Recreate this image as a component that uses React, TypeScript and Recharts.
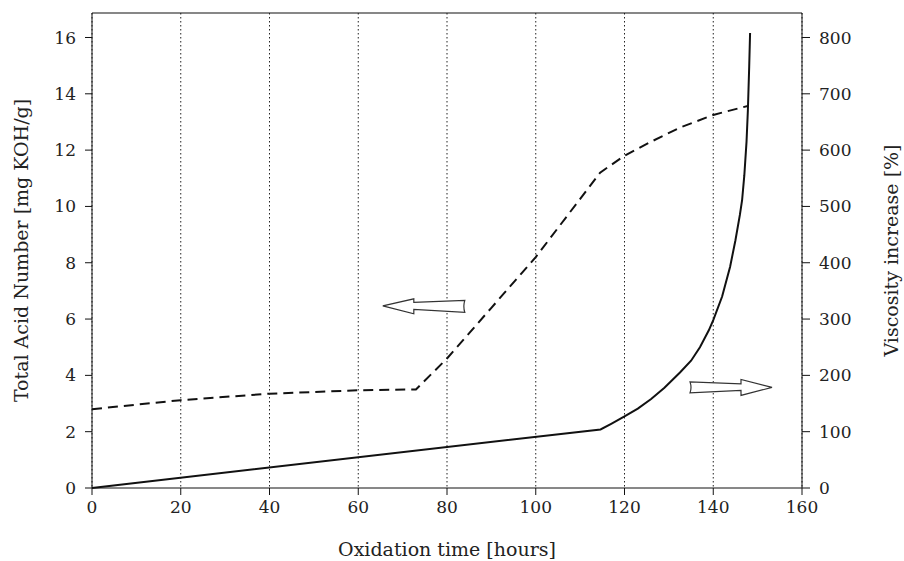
import { LineChart, Line, XAxis, YAxis, CartesianGrid, ReferenceLine, ReferenceDot } from 'recharts';

const tanTime = [0, 20, 40, 60, 73, 80, 90, 100, 114.5, 120, 126, 132.5, 140, 147.8];
const tanValue = [2.8, 3.12, 3.35, 3.47, 3.5, 4.6, 6.4, 8.2, 11.2, 11.8, 12.3, 12.8, 13.25, 13.57];

const viscTime = [0, 114.6, 117, 120, 123, 126, 129, 132.5, 135, 137, 139, 140, 142, 143.8, 145, 146, 146.5, 147, 147.5, 147.8, 148.1, 148.3];
const viscValue = [0, 104, 114, 127, 141, 158, 178, 205, 226, 250, 280, 298, 340, 393, 440, 485, 511, 555, 615, 670, 748, 808];

const xTicks = [0, 20, 40, 60, 80, 100, 120, 140, 160];
const tanTicks = [0, 2, 4, 6, 8, 10, 12, 14, 16];
const viscTicks = [0, 100, 200, 300, 400, 500, 600, 700, 800];

const TAN_MAX = 16.87;
const VISC_MAX = 843.5;

const tanData = tanTime.map((t, i) => ({ t, tan: tanValue[i] }));
const viscData = viscTime.map((t, i) => ({ t, visc: viscValue[i] }));

const tickFont = { fontFamily: '"DejaVu Serif", serif', fontSize: 17, fill: '#222' };
const titleFont = { fontFamily: '"DejaVu Serif", serif', fontSize: 19, fill: '#222' };

function LeftArrow({ cx, cy }: any) {
  const d = `M ${cx - 42} ${cy} L ${cx - 11} ${cy - 7} L ${cx - 11} ${cy - 3.5} L ${cx + 40} ${cy - 5.5} Q ${cx + 38} ${cy + 0.5} ${cx + 40} ${cy + 6.5} L ${cx - 11} ${cy + 3.5} L ${cx - 11} ${cy + 8} Z`;
  return <path d={d} fill="#fff" stroke="#333" strokeWidth={1.2} />;
}

function RightArrow({ cx, cy }: any) {
  const d = `M ${cx - 41} ${cy - 5} Q ${cx - 39} ${cy + 0.5} ${cx - 41} ${cy + 6} L ${cx + 10} ${cy + 3.5} L ${cx + 10} ${cy + 8.5} L ${cx + 41} ${cy + 0.5} L ${cx + 10} ${cy - 7.5} L ${cx + 10} ${cy - 3} Z`;
  return <path d={d} fill="#fff" stroke="#333" strokeWidth={1.2} />;
}

export default function App() {
  return (
    <div style={{ position: 'absolute', left: 0, top: 0, background: '#fff' }}>
      <LineChart width={904} height={561} margin={{ top: 13, right: 0, bottom: 0, left: 0 }}>
        <CartesianGrid horizontal={false} stroke="#222" strokeDasharray="1.5 2.5" />
        <XAxis
          type="number"
          dataKey="t"
          domain={[0, 160]}
          ticks={xTicks}
          height={73}
          stroke="#111"
          tickSize={7}
          tickMargin={6}
          tick={tickFont}
          label={{
            value: 'Oxidation time [hours]',
            position: 'center',
            dy: 25,
            style: titleFont,
          }}
        />
        <YAxis
          yAxisId="left"
          domain={[0, TAN_MAX]}
          ticks={tanTicks}
          width={92}
          stroke="#111"
          tickSize={7}
          tickMargin={9}
          tick={tickFont}
          label={{
            value: 'Total Acid Number [mg KOH/g]',
            angle: -90,
            position: 'center',
            dx: -25,
            style: { ...titleFont, textAnchor: 'middle' },
          }}
        />
        <YAxis
          yAxisId="right"
          orientation="right"
          domain={[0, VISC_MAX]}
          ticks={viscTicks}
          width={102}
          stroke="#111"
          tickSize={8}
          tickMargin={9}
          tick={tickFont}
          label={{
            value: 'Viscosity increase [%]',
            angle: -90,
            position: 'center',
            dx: 38,
            style: { ...titleFont, textAnchor: 'middle' },
          }}
        />
        <ReferenceLine yAxisId="left" y={TAN_MAX} stroke="#111" strokeWidth={1.2} />
        <Line
          yAxisId="left"
          data={tanData}
          dataKey="tan"
          type="linear"
          stroke="#111"
          strokeWidth={2}
          strokeDasharray="10 6"
          dot={false}
          isAnimationActive={false}
        />
        <Line
          yAxisId="right"
          data={viscData}
          dataKey="visc"
          type="linear"
          stroke="#111"
          strokeWidth={2}
          dot={false}
          isAnimationActive={false}
        />
        <ReferenceDot yAxisId="left" x={75} y={6.47} r={1} shape={LeftArrow} />
        <ReferenceDot yAxisId="left" x={144} y={3.59} r={1} shape={RightArrow} />
      </LineChart>
    </div>
  );
}
